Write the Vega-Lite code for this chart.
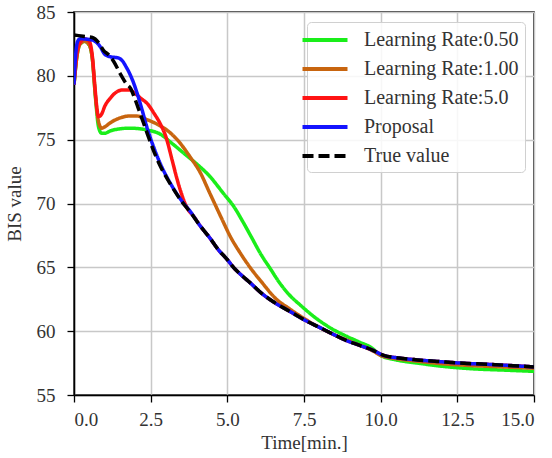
{
  "$schema": "https://vega.github.io/schema/vega-lite/v6.json",
  "width": 460,
  "height": 383,
  "autosize": {"type": "none"},
  "padding": {"left": 74, "top": 12, "right": 18, "bottom": 63},
  "background": "white",
  "config": {
    "view": {"stroke": "black", "strokeWidth": 1.5},
    "font": "Liberation Serif",
    "axis": {
      "gridColor": "#c8c8c8", "gridWidth": 1.5, "domainColor": "black", "domainWidth": 1.5,
      "tickColor": "black", "tickSize": 7, "tickWidth": 1.3,
      "labelFont": "Liberation Serif", "labelFontSize": 19, "labelColor": "#333",
      "titleFont": "Liberation Serif", "titleFontSize": 19, "titleFontWeight": "normal", "titleColor": "#333"
    },
    "legend": {
      "labelFont": "Liberation Serif", "labelFontSize": 20, "labelColor": "#333"
    }
  },
  "data": {"values": [
    {"s":"Learning Rate:0.50","t":0,"v":79.3},{"s":"Learning Rate:0.50","t":0.1,"v":81.6},{"s":"Learning Rate:0.50","t":0.2,"v":82.5},{"s":"Learning Rate:0.50","t":0.35,"v":82.7},{"s":"Learning Rate:0.50","t":0.5,"v":82.4},{"s":"Learning Rate:0.50","t":0.6,"v":81.3},{"s":"Learning Rate:0.50","t":0.7,"v":78.3},{"s":"Learning Rate:0.50","t":0.8,"v":76.0},{"s":"Learning Rate:0.50","t":0.9,"v":75.5},{"s":"Learning Rate:0.50","t":1.0,"v":75.5},{"s":"Learning Rate:0.50","t":1.2,"v":75.7},{"s":"Learning Rate:0.50","t":1.5,"v":75.85},{"s":"Learning Rate:0.50","t":1.8,"v":75.9},{"s":"Learning Rate:0.50","t":2.15,"v":75.85},{"s":"Learning Rate:0.50","t":2.4,"v":75.75},{"s":"Learning Rate:0.50","t":2.8,"v":75.45},{"s":"Learning Rate:0.50","t":3.2,"v":74.7},{"s":"Learning Rate:0.50","t":3.6,"v":73.9},{"s":"Learning Rate:0.50","t":4.0,"v":73.1},{"s":"Learning Rate:0.50","t":4.4,"v":72.2},{"s":"Learning Rate:0.50","t":4.87,"v":70.8},{"s":"Learning Rate:0.50","t":5.2,"v":69.8},{"s":"Learning Rate:0.50","t":5.5,"v":68.6},{"s":"Learning Rate:0.50","t":5.8,"v":67.3},{"s":"Learning Rate:0.50","t":6.1,"v":66.0},{"s":"Learning Rate:0.50","t":6.4,"v":64.9},{"s":"Learning Rate:0.50","t":6.7,"v":63.8},{"s":"Learning Rate:0.50","t":7.0,"v":62.9},{"s":"Learning Rate:0.50","t":7.4,"v":62.0},{"s":"Learning Rate:0.50","t":7.9,"v":61.0},{"s":"Learning Rate:0.50","t":8.4,"v":60.2},{"s":"Learning Rate:0.50","t":8.8,"v":59.7},{"s":"Learning Rate:0.50","t":9.3,"v":59.15},{"s":"Learning Rate:0.50","t":9.7,"v":58.7},{"s":"Learning Rate:0.50","t":10.0,"v":58.1},{"s":"Learning Rate:0.50","t":10.5,"v":57.75},{"s":"Learning Rate:0.50","t":11.2,"v":57.5},{"s":"Learning Rate:0.50","t":12.0,"v":57.25},{"s":"Learning Rate:0.50","t":13.0,"v":57.05},{"s":"Learning Rate:0.50","t":14.0,"v":56.95},{"s":"Learning Rate:0.50","t":15.0,"v":56.85},

    {"s":"Learning Rate:1.00","t":0,"v":79.3},{"s":"Learning Rate:1.00","t":0.1,"v":81.6},{"s":"Learning Rate:1.00","t":0.2,"v":82.5},{"s":"Learning Rate:1.00","t":0.35,"v":82.7},{"s":"Learning Rate:1.00","t":0.5,"v":82.4},{"s":"Learning Rate:1.00","t":0.6,"v":81.3},{"s":"Learning Rate:1.00","t":0.7,"v":78.4},{"s":"Learning Rate:1.00","t":0.8,"v":76.4},{"s":"Learning Rate:1.00","t":0.9,"v":75.9},{"s":"Learning Rate:1.00","t":1.0,"v":76.0},{"s":"Learning Rate:1.00","t":1.2,"v":76.35},{"s":"Learning Rate:1.00","t":1.5,"v":76.7},{"s":"Learning Rate:1.00","t":1.8,"v":76.85},{"s":"Learning Rate:1.00","t":2.05,"v":76.85},{"s":"Learning Rate:1.00","t":2.4,"v":76.55},{"s":"Learning Rate:1.00","t":2.8,"v":76.1},{"s":"Learning Rate:1.00","t":3.0,"v":75.8},{"s":"Learning Rate:1.00","t":3.4,"v":74.9},{"s":"Learning Rate:1.00","t":3.8,"v":73.6},{"s":"Learning Rate:1.00","t":4.1,"v":72.5},{"s":"Learning Rate:1.00","t":4.43,"v":70.8},{"s":"Learning Rate:1.00","t":4.8,"v":68.9},{"s":"Learning Rate:1.00","t":5.1,"v":67.4},{"s":"Learning Rate:1.00","t":5.4,"v":66.2},{"s":"Learning Rate:1.00","t":5.74,"v":65.0},{"s":"Learning Rate:1.00","t":6.1,"v":63.9},{"s":"Learning Rate:1.00","t":6.6,"v":62.5},{"s":"Learning Rate:1.00","t":7.0,"v":61.8},{"s":"Learning Rate:1.00","t":7.5,"v":61.0},{"s":"Learning Rate:1.00","t":8.0,"v":60.3},{"s":"Learning Rate:1.00","t":8.5,"v":59.7},{"s":"Learning Rate:1.00","t":9.0,"v":59.2},{"s":"Learning Rate:1.00","t":9.75,"v":58.45},{"s":"Learning Rate:1.00","t":10.0,"v":58.1},{"s":"Learning Rate:1.00","t":10.5,"v":57.85},{"s":"Learning Rate:1.00","t":11.2,"v":57.65},{"s":"Learning Rate:1.00","t":12.0,"v":57.45},{"s":"Learning Rate:1.00","t":13.0,"v":57.3},{"s":"Learning Rate:1.00","t":14.0,"v":57.2},{"s":"Learning Rate:1.00","t":15.0,"v":57.1},

    {"s":"Learning Rate:5.0","t":0,"v":79.3},{"s":"Learning Rate:5.0","t":0.1,"v":81.8},{"s":"Learning Rate:5.0","t":0.2,"v":82.6},{"s":"Learning Rate:5.0","t":0.35,"v":82.9},{"s":"Learning Rate:5.0","t":0.5,"v":82.7},{"s":"Learning Rate:5.0","t":0.6,"v":81.5},{"s":"Learning Rate:5.0","t":0.68,"v":79.2},{"s":"Learning Rate:5.0","t":0.75,"v":77.4},{"s":"Learning Rate:5.0","t":0.8,"v":76.8},{"s":"Learning Rate:5.0","t":0.9,"v":77.0},{"s":"Learning Rate:5.0","t":1.0,"v":77.6},{"s":"Learning Rate:5.0","t":1.2,"v":78.3},{"s":"Learning Rate:5.0","t":1.4,"v":78.75},{"s":"Learning Rate:5.0","t":1.6,"v":78.9},{"s":"Learning Rate:5.0","t":1.8,"v":78.9},{"s":"Learning Rate:5.0","t":2.0,"v":78.6},{"s":"Learning Rate:5.0","t":2.2,"v":78.2},{"s":"Learning Rate:5.0","t":2.4,"v":77.8},{"s":"Learning Rate:5.0","t":2.6,"v":77.1},{"s":"Learning Rate:5.0","t":2.8,"v":76.3},{"s":"Learning Rate:5.0","t":3.0,"v":75.2},{"s":"Learning Rate:5.0","t":3.2,"v":73.4},{"s":"Learning Rate:5.0","t":3.35,"v":72.0},{"s":"Learning Rate:5.0","t":3.5,"v":70.8},{"s":"Learning Rate:5.0","t":3.7,"v":69.6},{"s":"Learning Rate:5.0","t":3.9,"v":69.0},{"s":"Learning Rate:5.0","t":4.1,"v":68.3},{"s":"Learning Rate:5.0","t":4.43,"v":67.3},{"s":"Learning Rate:5.0","t":4.7,"v":66.4},{"s":"Learning Rate:5.0","t":5.0,"v":65.6},{"s":"Learning Rate:5.0","t":5.2,"v":65.0},{"s":"Learning Rate:5.0","t":5.5,"v":64.3},{"s":"Learning Rate:5.0","t":5.74,"v":63.8},{"s":"Learning Rate:5.0","t":6.1,"v":63.0},{"s":"Learning Rate:5.0","t":6.5,"v":62.3},{"s":"Learning Rate:5.0","t":7.0,"v":61.6},{"s":"Learning Rate:5.0","t":7.5,"v":60.9},{"s":"Learning Rate:5.0","t":8.0,"v":60.3},{"s":"Learning Rate:5.0","t":8.5,"v":59.7},{"s":"Learning Rate:5.0","t":8.8,"v":59.35},{"s":"Learning Rate:5.0","t":9.3,"v":58.9},{"s":"Learning Rate:5.0","t":9.75,"v":58.5},{"s":"Learning Rate:5.0","t":10.1,"v":58.1},{"s":"Learning Rate:5.0","t":10.6,"v":57.9},{"s":"Learning Rate:5.0","t":11.2,"v":57.75},{"s":"Learning Rate:5.0","t":12.0,"v":57.6},{"s":"Learning Rate:5.0","t":12.6,"v":57.5},{"s":"Learning Rate:5.0","t":13.5,"v":57.4},{"s":"Learning Rate:5.0","t":14.3,"v":57.3},{"s":"Learning Rate:5.0","t":15.0,"v":57.2},

    {"s":"Proposal","t":0,"v":79.3},{"s":"Proposal","t":0.05,"v":81.5},{"s":"Proposal","t":0.12,"v":82.7},{"s":"Proposal","t":0.2,"v":82.9},{"s":"Proposal","t":0.6,"v":82.8},{"s":"Proposal","t":0.85,"v":82.3},{"s":"Proposal","t":1.0,"v":81.7},{"s":"Proposal","t":1.17,"v":81.5},{"s":"Proposal","t":1.45,"v":81.4},{"s":"Proposal","t":1.6,"v":81.1},{"s":"Proposal","t":1.7,"v":80.7},{"s":"Proposal","t":1.83,"v":80.1},{"s":"Proposal","t":1.95,"v":79.4},{"s":"Proposal","t":2.05,"v":78.7},{"s":"Proposal","t":2.2,"v":77.5},{"s":"Proposal","t":2.4,"v":75.8},{"s":"Proposal","t":2.6,"v":74.4},{"s":"Proposal","t":2.8,"v":73.2},{"s":"Proposal","t":3.0,"v":72.2},{"s":"Proposal","t":3.2,"v":71.35},{"s":"Proposal","t":3.5,"v":70.25},{"s":"Proposal","t":3.8,"v":69.35},{"s":"Proposal","t":4.1,"v":68.3},{"s":"Proposal","t":4.43,"v":67.3},{"s":"Proposal","t":4.7,"v":66.4},{"s":"Proposal","t":5.0,"v":65.6},{"s":"Proposal","t":5.2,"v":65.0},{"s":"Proposal","t":5.5,"v":64.3},{"s":"Proposal","t":5.74,"v":63.8},{"s":"Proposal","t":6.1,"v":63.0},{"s":"Proposal","t":6.5,"v":62.3},{"s":"Proposal","t":7.0,"v":61.6},{"s":"Proposal","t":7.5,"v":60.9},{"s":"Proposal","t":8.0,"v":60.3},{"s":"Proposal","t":8.5,"v":59.7},{"s":"Proposal","t":8.8,"v":59.35},{"s":"Proposal","t":9.3,"v":58.9},{"s":"Proposal","t":9.75,"v":58.5},{"s":"Proposal","t":10.1,"v":58.1},{"s":"Proposal","t":10.6,"v":57.9},{"s":"Proposal","t":11.2,"v":57.75},{"s":"Proposal","t":12.0,"v":57.6},{"s":"Proposal","t":12.6,"v":57.5},{"s":"Proposal","t":13.5,"v":57.4},{"s":"Proposal","t":14.3,"v":57.3},{"s":"Proposal","t":15.0,"v":57.2},

    {"s":"True value","t":0,"v":83.2},{"s":"True value","t":0.3,"v":83.1},{"s":"True value","t":0.6,"v":83.0},{"s":"True value","t":0.8,"v":82.6},{"s":"True value","t":0.96,"v":82.0},{"s":"True value","t":1.15,"v":81.6},{"s":"True value","t":1.3,"v":81.1},{"s":"True value","t":1.5,"v":80.2},{"s":"True value","t":1.7,"v":79.4},{"s":"True value","t":1.85,"v":79.0},{"s":"True value","t":2.0,"v":78.1},{"s":"True value","t":2.15,"v":77.1},{"s":"True value","t":2.4,"v":75.4},{"s":"True value","t":2.6,"v":74.1},{"s":"True value","t":2.8,"v":73.0},{"s":"True value","t":3.0,"v":72.1},{"s":"True value","t":3.2,"v":71.3},{"s":"True value","t":3.5,"v":70.2},{"s":"True value","t":3.8,"v":69.3},{"s":"True value","t":4.1,"v":68.3},{"s":"True value","t":4.43,"v":67.3},{"s":"True value","t":4.7,"v":66.4},{"s":"True value","t":5.0,"v":65.6},{"s":"True value","t":5.2,"v":65.0},{"s":"True value","t":5.5,"v":64.3},{"s":"True value","t":5.74,"v":63.8},{"s":"True value","t":6.1,"v":63.0},{"s":"True value","t":6.5,"v":62.3},{"s":"True value","t":7.0,"v":61.6},{"s":"True value","t":7.5,"v":60.9},{"s":"True value","t":8.0,"v":60.3},{"s":"True value","t":8.5,"v":59.7},{"s":"True value","t":8.8,"v":59.35},{"s":"True value","t":9.3,"v":58.9},{"s":"True value","t":9.75,"v":58.5},{"s":"True value","t":10.1,"v":58.1},{"s":"True value","t":10.6,"v":57.9},{"s":"True value","t":11.2,"v":57.75},{"s":"True value","t":12.0,"v":57.6},{"s":"True value","t":12.6,"v":57.5},{"s":"True value","t":13.5,"v":57.4},{"s":"True value","t":14.3,"v":57.3},{"s":"True value","t":15.0,"v":57.2}
  ]},
  "encoding": {
    "x": {"field": "t", "type": "quantitative", "title": "Time[min.]",
      "scale": {"domain": [0, 15], "nice": false},
      "axis": {"values": [0, 2.5, 5, 7.5, 10, 12.5, 15], "format": ".1f", "labelPadding": 8, "titlePadding": 4}},
    "y": {"field": "v", "type": "quantitative", "title": "BIS value",
      "scale": {"domain": [55, 85], "nice": false, "zero": false},
      "axis": {"values": [55, 60, 65, 70, 75, 80, 85], "labelPadding": 12, "titlePadding": 12}},
    "color": {"field": "s", "type": "nominal",
      "scale": {"domain": ["Learning Rate:0.50", "Learning Rate:1.00", "Learning Rate:5.0", "Proposal", "True value"],
        "range": ["#1aee1a", "#c8650f", "#ff1414", "#1414ff", "#000000"]},
      "legend": {"title": null, "orient": "none", "legendX": 233, "legendY": 10,
        "symbolType": "M-2.25,0H2.25", "symbolSize": 400, "symbolStrokeWidth": 4,
        "fillColor": "rgba(255,255,255,0.85)", "strokeColor": "#d0d0d0", "cornerRadius": 4,
        "padding": 6, "labelOffset": 27, "rowPadding": 7}},
    "strokeDash": {"field": "s", "type": "nominal",
      "scale": {"domain": ["Learning Rate:0.50", "Learning Rate:1.00", "Learning Rate:5.0", "Proposal", "True value"],
        "range": [[1, 0], [1, 0], [1, 0], [1, 0], [11, 5]]},
      "legend": {"title": null, "orient": "none", "legendX": 233, "legendY": 10,
        "symbolType": "M-2.25,0H2.25", "symbolSize": 400, "symbolStrokeWidth": 4,
        "fillColor": "rgba(255,255,255,0.85)", "strokeColor": "#d0d0d0", "cornerRadius": 4,
        "padding": 6, "labelOffset": 27, "rowPadding": 7}}
  },
  "layer": [
    {"transform": [{"filter": "datum.s == 'Learning Rate:0.50'"}], "mark": {"type": "line", "strokeWidth": 3.5, "interpolate": "monotone", "clip": true}},
    {"transform": [{"filter": "datum.s == 'Learning Rate:1.00'"}], "mark": {"type": "line", "strokeWidth": 3.5, "interpolate": "monotone", "clip": true}},
    {"transform": [{"filter": "datum.s == 'Learning Rate:5.0'"}], "mark": {"type": "line", "strokeWidth": 3.5, "interpolate": "monotone", "clip": true}},
    {"transform": [{"filter": "datum.s == 'Proposal'"}], "mark": {"type": "line", "strokeWidth": 3.5, "interpolate": "monotone", "clip": true}},
    {"transform": [{"filter": "datum.s == 'True value'"}], "mark": {"type": "line", "strokeWidth": 3.5, "interpolate": "monotone", "clip": true}}
  ]
}
